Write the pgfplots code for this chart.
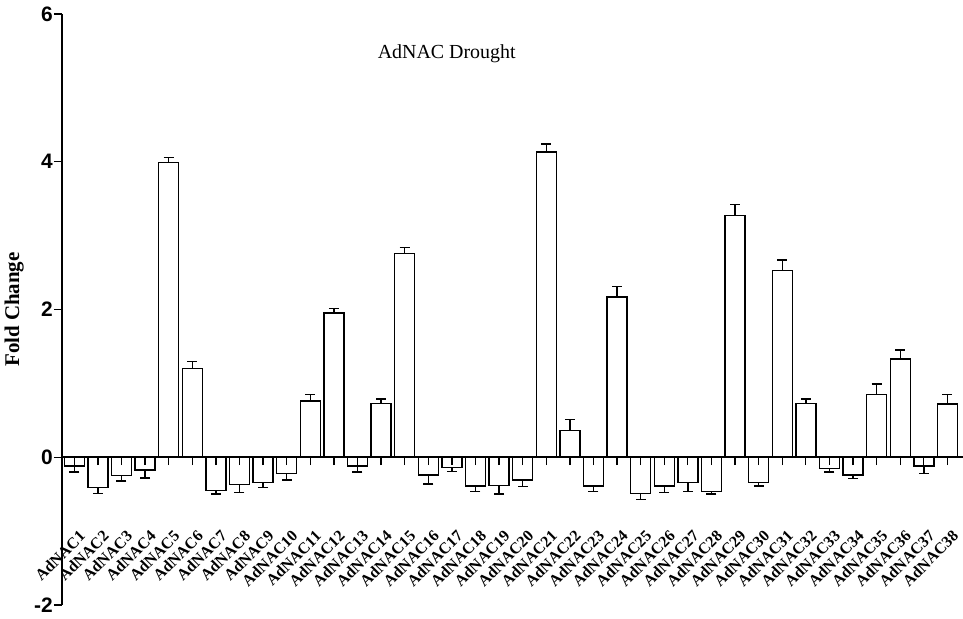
\documentclass[border=0pt]{standalone}
\usepackage{fontspec}
\setmainfont{Liberation Serif}
\newfontfamily\arialfont{Liberation Sans}
\usepackage{pgfplots}
\pgfplotsset{compat=1.18}
\usepackage{pgfplotstable}
\pgfplotstableread{
x y ep em
0 -0.12 0 0.08
1 -0.41 0 0.08
2 -0.25 0 0.07
3 -0.17 0 0.11
4 3.99 0.07 0
5 1.20 0.10 0
6 -0.45 0 0.05
7 -0.37 0 0.11
8 -0.34 0 0.07
9 -0.22 0 0.09
10 0.76 0.09 0
11 1.95 0.06 0
12 -0.12 0 0.08
13 0.73 0.06 0
14 2.76 0.08 0
15 -0.24 0 0.12
16 -0.14 0 0.05
17 -0.39 0 0.07
18 -0.38 0 0.12
19 -0.31 0 0.09
20 4.13 0.11 0
21 0.36 0.15 0
22 -0.39 0 0.07
23 2.17 0.14 0
24 -0.49 0 0.08
25 -0.39 0 0.09
26 -0.34 0 0.12
27 -0.46 0 0.04
28 3.27 0.15 0
29 -0.34 0 0.05
30 2.53 0.14 0
31 0.73 0.06 0
32 -0.15 0 0.05
33 -0.24 0 0.05
34 0.85 0.14 0
35 1.33 0.12 0
36 -0.12 0 0.10
37 0.72 0.13 0
}\data
\begin{document}
\begin{tikzpicture}
\useasboundingbox (0,0) rectangle (963bp,619bp);
\begin{axis}[
  at={(62bp,14bp)}, anchor=south west,
  scale only axis, width=901bp, height=591bp,
  xmin=-0.52, xmax=37.66, ymin=-2, ymax=6,
  axis x line=middle, axis y line=left,
  axis line style={-, line width=1.8bp, black},
  axis on top,
  hide obscured x ticks=false, hide obscured y ticks=false,
  xtick={0,...,37},
  xticklabels={AdNAC1,AdNAC2,AdNAC3,AdNAC4,AdNAC5,AdNAC6,AdNAC7,AdNAC8,AdNAC9,AdNAC10,AdNAC11,AdNAC12,AdNAC13,AdNAC14,AdNAC15,AdNAC16,AdNAC17,AdNAC18,AdNAC19,AdNAC20,AdNAC21,AdNAC22,AdNAC23,AdNAC24,AdNAC25,AdNAC26,AdNAC27,AdNAC28,AdNAC29,AdNAC30,AdNAC31,AdNAC32,AdNAC33,AdNAC34,AdNAC35,AdNAC36,AdNAC37,AdNAC38},
  ytick={-2,0,2,4,6}, yticklabels={-2,0,2,4,6},
  tick align=outside, major tick length=8bp,
  tick style={line width=1.3bp, black},
  xticklabel style={yshift=-64bp, xshift=4bp, rotate=45, anchor=north east, inner sep=0pt, font=\fontsize{16}{16}\selectfont\bfseries},
  yticklabel style={font=\arialfont\fontsize{21}{24}\selectfont\bfseries, inner sep=1bp},
  every axis y label/.style={at={(axis description cs:-0.053,0.5)}, rotate=90, anchor=center, font=\fontsize{21}{24}\selectfont\bfseries},
  ylabel={Fold Change},
  title={AdNAC Drought},
  title style={at={(axis description cs:0.427,0.922)}, anchor=center, font=\fontsize{20}{24}\selectfont},
]
\addplot[ybar, bar width=20bp, fill=white, draw=black, line width=1.4bp,
  error bars/.cd, y dir=both, y explicit,
  error bar style={line width=1.4bp, black},
  error mark options={rotate=90, mark size=5bp, line width=1.4bp, black}]
  table[x=x, y=y, y error plus=ep, y error minus=em] {\data};
\end{axis}
\end{tikzpicture}
\end{document}
